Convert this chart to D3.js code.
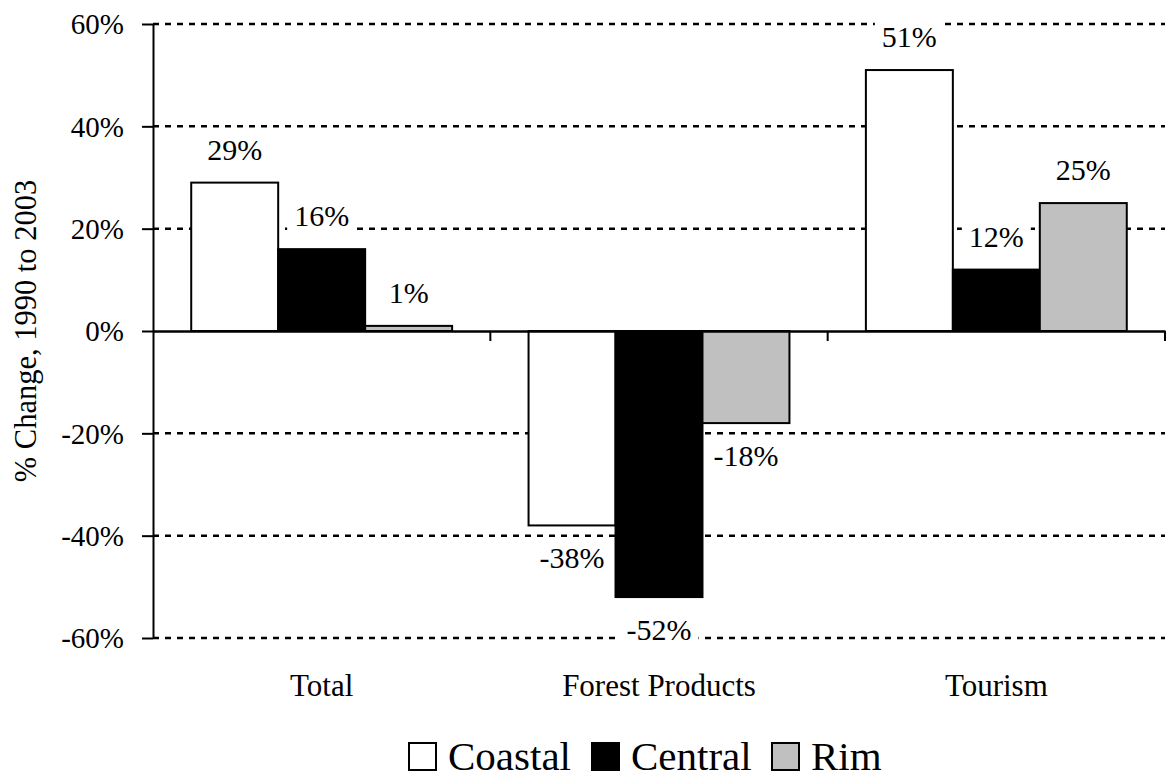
<!DOCTYPE html>
<html>
<head>
<meta charset="utf-8">
<script src="https://cdn.jsdelivr.net/npm/d3@7"></script>
<style>
  html, body { margin: 0; padding: 0; background: #fff; }
  svg { display: block; }
  svg text { font-family: 'Liberation Serif', 'Times New Roman', Tinos, 'DejaVu Serif', serif; }
</style>
</head>
<body>
<svg id="chart" width="1166" height="776"></svg>
<script>
const categories = ["Total", "Forest Products", "Tourism"];
const seriesNames = ["Coastal", "Central", "Rim"];
const coastal = [29, -38, 51];
const central = [16, -52, 12];
const rim = [1, -18, 25];
const yTicks = [-60, -40, -20, 0, 20, 40, 60];
const colors = ["#ffffff", "#000000", "#c0c0c0"];

(function () {
const FONT = "'Liberation Serif', 'Times New Roman', Tinos, 'DejaVu Serif', serif";
const seriesValues = [coastal, central, rim];
const svg = d3.select("#chart");
const pL = 153, pR = 1165, pT = 24, pB = 638;

const x0 = d3.scaleBand().domain(categories).range([pL, pR]).padding(0);
const bw = x0.bandwidth();
const x1 = d3.scaleBand().domain(seriesNames).range([bw * 0.1133, bw * 0.8867]).padding(0);
const y = d3.scaleLinear().domain([-60, 60]).range([pB, pT]);

// gridlines
svg.append("g").selectAll("line")
  .data(yTicks.filter(d => d !== 0))
  .join("line")
  .attr("x1", pL).attr("x2", pR)
  .attr("y1", d => y(d)).attr("y2", d => y(d))
  .attr("stroke", "#000").attr("stroke-width", 2.5)
  .attr("stroke-dasharray", "6,6");

// bars
const groups = svg.append("g").selectAll("g")
  .data(categories)
  .join("g")
  .attr("transform", d => `translate(${x0(d)},0)`);

groups.selectAll("rect")
  .data((c, i) => seriesNames.map((s, j) => ({ s, v: seriesValues[j][i], j })))
  .join("rect")
  .attr("x", d => x1(d.s))
  .attr("width", x1.bandwidth())
  .attr("y", d => y(Math.max(0, d.v)))
  .attr("height", d => Math.abs(y(d.v) - y(0)))
  .attr("fill", d => colors[d.j])
  .attr("stroke", "#000").attr("stroke-width", 2);

// labels with white backgrounds
const labelG = svg.append("g");
categories.forEach((c, i) => {
  seriesNames.forEach((s, j) => {
    const v = seriesValues[j][i];
    const cx = x0(c) + x1(s) + x1.bandwidth() / 2;
    const by = v >= 0 ? y(v) - 23 : y(v) + 43;
    const g = labelG.append("g");
    const t = g.append("text")
      .attr("x", cx).attr("y", by)
      .attr("text-anchor", "middle")
      .attr("font-family", FONT)
      .attr("font-size", 30)
      .text(v + "%");
    const bb = t.node().getBBox();
    g.insert("rect", "text")
      .attr("x", bb.x - 7).attr("y", bb.y + 2)
      .attr("width", bb.width + 14).attr("height", bb.height + 2)
      .attr("fill", "#fff");
  });
});

// y axis
const yAxis = d3.axisLeft(y).tickValues(yTicks).tickFormat(d => d + "%").tickSize(11).tickSizeOuter(0);
const ya = svg.append("g").attr("transform", `translate(${pL},0)`).call(yAxis)
  .attr("font-family", FONT);
ya.select(".domain").attr("stroke", "#000").attr("stroke-width", 2);
ya.selectAll(".tick line").attr("stroke", "#000").attr("stroke-width", 2);
ya.selectAll(".tick text").attr("font-size", 29).attr("font-family", FONT).attr("fill", "#000").attr("x", -29).attr("dy", "0.34em");

// x axis at zero
const xAxis = d3.axisBottom(x0).tickSize(0).tickSizeOuter(0).tickFormat("");
const xa = svg.append("g").attr("transform", `translate(0,${y(0)})`).call(xAxis);
xa.select(".domain").attr("stroke", "#000").attr("stroke-width", 2.5);
// boundary ticks
svg.append("g").selectAll("line")
  .data(categories)
  .join("line")
  .attr("x1", d => x0(d) + bw).attr("x2", d => x0(d) + bw)
  .attr("y1", y(0)).attr("y2", y(0) + 10)
  .attr("stroke", "#000").attr("stroke-width", 2);

// category labels
svg.append("g").selectAll("text")
  .data(categories)
  .join("text")
  .attr("x", d => x0(d) + bw / 2)
  .attr("y", 696)
  .attr("text-anchor", "middle")
  .attr("font-family", FONT)
  .attr("font-size", 31)
  .text(d => d);

// y axis title
svg.append("text")
  .attr("transform", `translate(36,${y(0)}) rotate(-90)`)
  .attr("text-anchor", "middle")
  .attr("font-family", FONT)
  .attr("font-size", 30.5)
  .text("% Change, 1990 to 2003");

// legend
const legendX = [409, 592, 772];
const leg = svg.append("g");
seriesNames.forEach((s, j) => {
  leg.append("rect")
    .attr("x", legendX[j]).attr("y", 743)
    .attr("width", 27).attr("height", 27)
    .attr("fill", colors[j]).attr("stroke", "#000").attr("stroke-width", 2);
  leg.append("text")
    .attr("x", legendX[j] + 39).attr("y", 770)
    .attr("font-family", FONT)
    .attr("font-size", 41)
    .text(s);
});
})();
</script>
</body>
</html>
